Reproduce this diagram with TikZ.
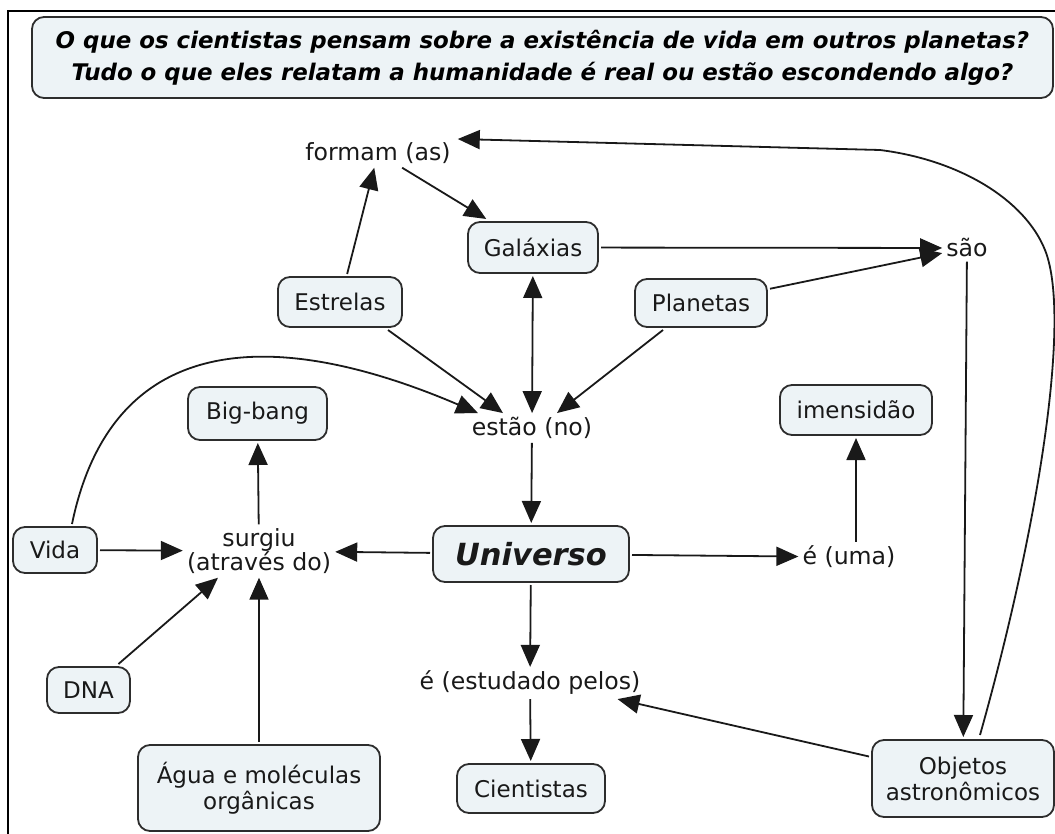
\documentclass[tikz,border=0pt]{standalone}
\usepackage{fontspec}
\setmainfont{DejaVu Sans}
\usetikzlibrary{arrows.meta,calc}
\definecolor{boxfill}{RGB}{237,243,246}
\definecolor{boxline}{RGB}{45,45,45}
\definecolor{ink}{RGB}{25,25,25}
\begin{document}
\begin{tikzpicture}[x=1pt,y=-1pt,
  box/.style={draw=boxline, line width=1.8pt, fill=boxfill, rounded corners=12pt,
    inner sep=0pt, align=center, text=ink, font=\fontsize{23}{26}\selectfont, outer sep=3pt},
  lbl/.style={inner sep=4pt, align=center, text=ink, font=\fontsize{23.6}{24}\selectfont},
  conn/.style={line width=1.8pt, draw=ink, -{Triangle[length=22pt,width=19pt]}},
  twoway/.style={line width=1.8pt, draw=ink, {Triangle[length=22pt,width=19pt]}-{Triangle[length=22pt,width=19pt]}},
  frameline/.style={line width=1.5pt, draw=black},
]
\useasboundingbox (0,0) rectangle (1055,834);
\draw[frameline] (8,834) -- (8,11) -- (1055,11);

\node[box, minimum width=1021pt, minimum height=81pt,
  font=\fontsize{22.9}{32}\selectfont\bfseries\itshape, text=black] (title) at (542.5,57.5)
  {O que os cientistas pensam sobre a existência de vida em outros planetas?\\
   Tudo o que eles relatam a humanidade é real ou estão escondendo algo?};

\node[lbl] (formam) at (378,153) {formam (as)};
\node[box, minimum width=130pt, minimum height=51pt] (galaxias) at (533,247.5) {Galáxias};
\node[box, minimum width=124pt, minimum height=50pt] (estrelas) at (340,302) {Estrelas};
\node[box, minimum width=132pt, minimum height=48pt] (planetas) at (701,303) {Planetas};
\node[lbl] (sao) at (967,248) {são};
\node[box, minimum width=139pt, minimum height=53pt] (bigbang) at (257.5,413.5) {Big-bang};
\node[lbl] (estao) at (532,428) {estão (no)};
\node[box, minimum width=152pt, minimum height=50pt] (imensidao) at (856,410) {imensidão};
\node[box, minimum width=196pt, minimum height=56pt,
  font=\fontsize{30.5}{32}\selectfont\bfseries\itshape] (universo) at (531,554) {Universo};
\node[box, minimum width=84pt, minimum height=46pt] (vida) at (55,550) {Vida};
\node[lbl] (surgiu) at (259,551) {surgiu\\(através do)};
\node[lbl] (euma) at (849,557) {é (uma)};
\node[box, minimum width=83pt, minimum height=46pt] (dna) at (88.5,690) {DNA};
\node[box, minimum width=242pt, minimum height=86pt] (agua) at (259,788) {Água e moléculas\\orgânicas};
\node[lbl] (estudado) at (530,683) {é (estudado pelos)};
\node[box, minimum width=148pt, minimum height=49pt] (cientistas) at (531,788.5) {Cientistas};
\node[box, minimum width=182pt, minimum height=77pt] (objetos) at (963,778.5) {Objetos\\astronômicos};

% connectors
\draw[conn] (estrelas) -- (formam);
\draw[conn] (formam) -- (galaxias);
\draw[conn] ($(objetos.north)+(17,-2)$) .. controls (1035,540) and (1073,320) .. (1045,250)
   .. controls (1025,200) and (960,160) .. (880,150) -- ($(formam.east)+(3,-14)$);
\draw[conn] (galaxias) -- (sao);
\draw[conn] (planetas) -- (sao);
\draw[conn] (sao) -- (objetos);
\draw[twoway] (galaxias) -- (estao);
\draw[conn] ([xshift=-17pt]estrelas.south east) -- ([xshift=-29pt]estao.north);
\draw[conn] ([xshift=-38pt]planetas.south) -- ([xshift=25pt]estao.north);
\draw[conn] ([xshift=17pt]vida.north) .. controls (110,340) and (260,320) .. ([xshift=-54pt]estao.north);
\draw[conn] (estao) -- (universo);
\draw[conn] (universo) -- (surgiu);
\draw[conn] (universo) -- (euma);
\draw[conn] (euma.north -| imensidao.south) -- (imensidao.south);
\draw[conn] (surgiu) -- (bigbang);
\draw[conn] (vida) -- (surgiu);
\draw[conn] (dna) -- ([xshift=-41pt]surgiu.south);
\draw[conn] (agua.north -| surgiu.south) -- (surgiu.south);
\draw[conn] (universo) -- (estudado);
\draw[conn] (estudado) -- (cientistas);
\draw[conn] ([yshift=22pt]objetos.west) -- ([xshift=-27pt]estudado.south east);
\end{tikzpicture}
\end{document}
